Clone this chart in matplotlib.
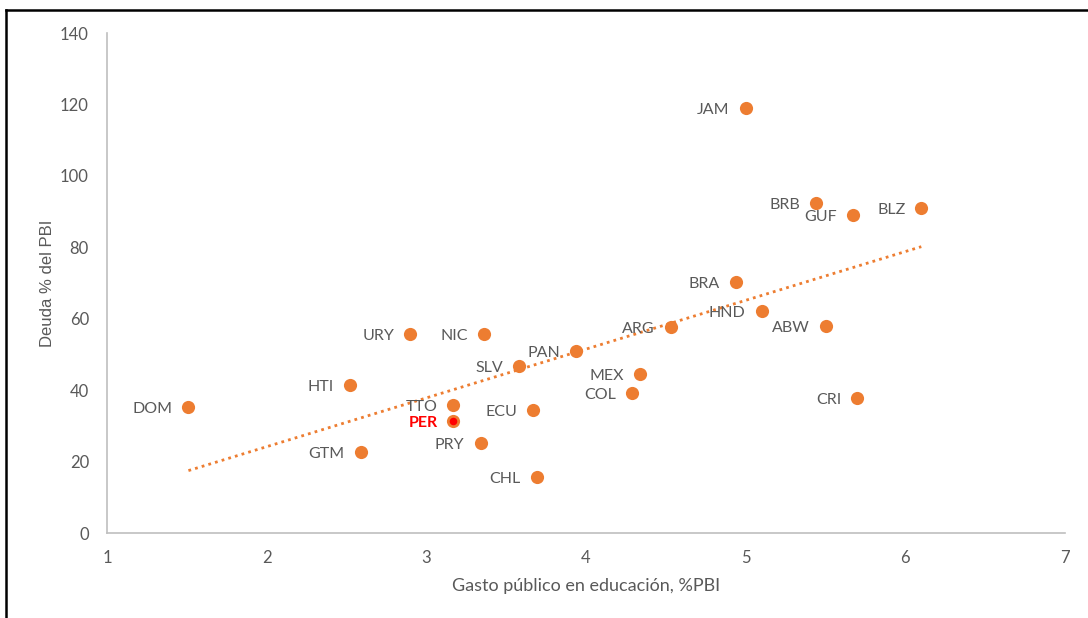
import numpy as np
import matplotlib
matplotlib.use("Agg")
import matplotlib.pyplot as plt
from matplotlib.lines import Line2D

countries = ["JAM", "BRB", "GUF", "BLZ", "BRA", "HND", "ABW", "ARG", "URY", "NIC",
             "PAN", "SLV", "MEX", "HTI", "COL", "CRI", "DOM", "TTO", "ECU", "PER",
             "PRY", "GTM", "CHL"]
gasto = [5.00, 5.44, 5.67, 6.10, 4.94, 5.10, 5.50, 4.53, 2.90, 3.36,
         3.94, 3.58, 4.34, 2.52, 4.29, 5.70, 1.51, 3.17, 3.67, 3.17,
         3.34, 2.59, 3.69]
deuda = [119.0, 92.4, 89.0, 91.0, 70.3, 62.2, 58.0, 57.7, 55.7, 55.7,
         51.0, 46.8, 44.5, 41.4, 39.2, 37.8, 35.3, 35.8, 34.4, 31.4,
         25.2, 22.7, 15.7]
highlight = "PER"
xticks = [1, 2, 3, 4, 5, 6, 7]
yticks = [0, 20, 40, 60, 80, 100, 120, 140]

plt.rcParams['font.family'] = ['Lato', 'DejaVu Sans']
orange = "#ED7D31"
gray = "#595959"

fig = plt.figure(figsize=(10.88, 6.18), dpi=100)
ax = fig.add_axes([107/1088, 85/618, 958/1088, 500/618])

x = np.array(gasto)
y = np.array(deuda)
ax.scatter(x, y, s=90, color=orange, zorder=3, linewidths=0)

# trendline (least squares)
m, b = np.polyfit(x, y, 1)
xt = np.array([x.min(), x.max()])
ax.plot(xt, m * xt + b, linestyle=(0, (1, 1.5)), color=orange, linewidth=2, zorder=2)

for c, xi, yi in zip(countries, gasto, deuda):
    if c == highlight:
        ax.scatter([xi], [yi], s=30, color="#FF0000", zorder=4, linewidths=0)
        ax.annotate(c, (xi, yi), xytext=(-16, -2), textcoords='offset pixels',
                    ha='right', va='center', fontsize=11.5, color="#FF0000",
                    fontweight='bold')
    else:
        ax.annotate(c, (xi, yi), xytext=(-16, -2), textcoords='offset pixels',
                    ha='right', va='center', fontsize=11.5, color=gray)

ax.set_xlim(1, 7)
ax.set_ylim(0, 140)
ax.set_xticks(xticks)
ax.set_yticks(yticks)
ax.tick_params(length=0, labelsize=12, labelcolor=gray)
ax.tick_params(axis='x', pad=12)
ax.tick_params(axis='y', pad=13)
for s in ['top', 'right']:
    ax.spines[s].set_visible(False)
for s in ['left', 'bottom']:
    ax.spines[s].set_color("#BFBFBF")
    ax.spines[s].set_linewidth(1.2)

ax.set_xlabel("Gasto público en educación, %PBI", fontsize=13, color=gray, labelpad=9)
ax.set_ylabel("Deuda % del PBI", fontsize=12, color=gray, labelpad=4,
              family=['Liberation Sans', 'DejaVu Sans'])

# outer frame lines (left and top)
fig.add_artist(Line2D([6/1088, 6/1088], [0, 1 - 10/618], transform=fig.transFigure,
                      color='black', linewidth=1.8))
fig.add_artist(Line2D([6/1088, 1], [1 - 10/618, 1 - 10/618], transform=fig.transFigure,
                      color='black', linewidth=1.8))

fig.savefig("out.png", dpi=100)
